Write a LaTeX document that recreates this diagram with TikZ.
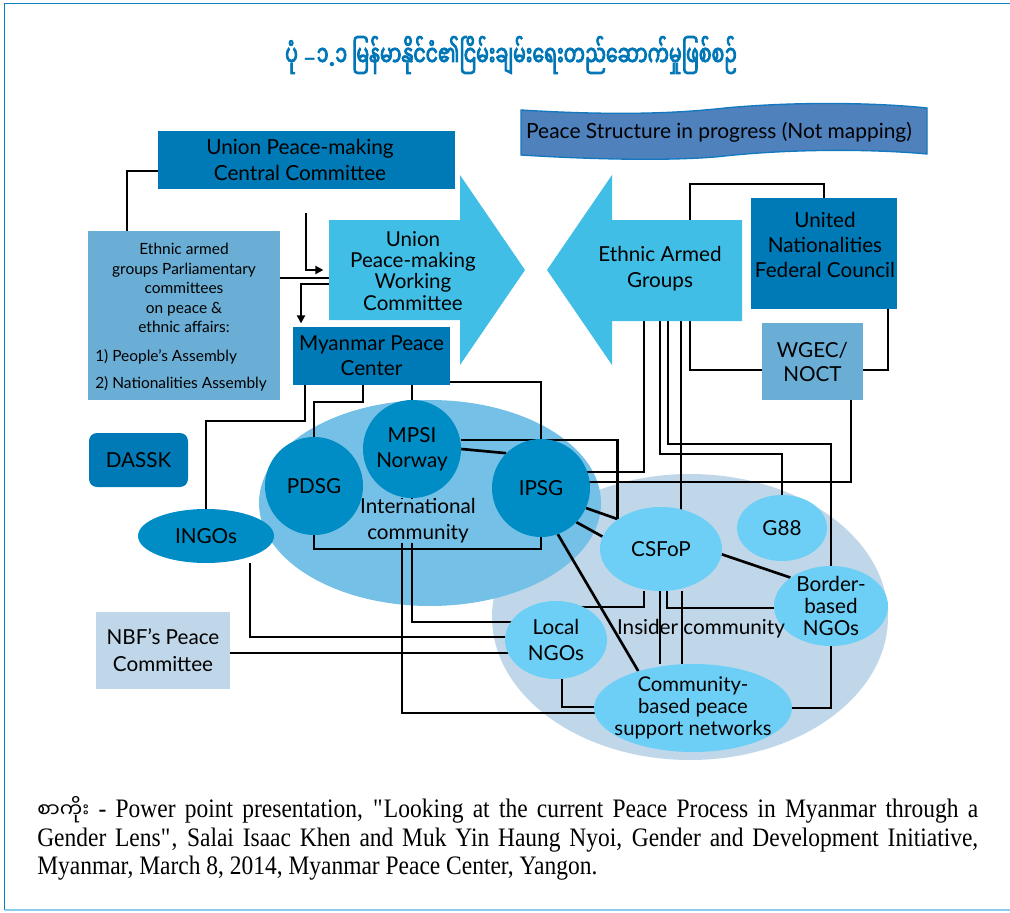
\documentclass[tikz,border=0pt]{standalone}
\usepackage{fontspec}
\setmainfont{Lato}
\newfontfamily\myan[Script=Myanmar]{Noto Sans Myanmar UI}
\newfontfamily\myanb[Script=Myanmar,FakeBold=3,FakeStretch=0.66]{Noto Sans Myanmar UI}
\newfontfamily\footfont[FakeStretch=0.88]{Liberation Serif}
\usetikzlibrary{shapes.geometric,arrows.meta}
\pgfdeclarelayer{back}
\pgfdeclarelayer{lines}
\pgfsetlayers{back,lines,main}
\newcommand\pxx{*0.75pt}
\newcommand\fsz[2]{\fontsize{#1}{#2}\selectfont}
\definecolor{darkbox}{RGB}{0,122,182}
\definecolor{circc}{RGB}{0,140,196}
\definecolor{arrowc}{RGB}{65,190,230}
\definecolor{midbox}{RGB}{106,174,214}
\definecolor{intlc}{RGB}{116,192,230}
\definecolor{insc}{RGB}{192,215,234}
\definecolor{smallc}{RGB}{109,207,245}
\definecolor{bannerc}{RGB}{79,129,189}
\definecolor{bannerline}{RGB}{20,120,190}
\definecolor{titlec}{RGB}{0,118,182}
\definecolor{framec}{RGB}{10,130,196}
\definecolor{framelight}{RGB}{140,205,238}
\begin{document}
\begin{tikzpicture}[x=0.75pt,y=-0.75pt,
  conn/.style={draw=black,line width=2pt},
  arr/.style={conn,-{Triangle[length=6pt,width=6pt]}},
  box/.style={rectangle,inner sep=0pt,align=center,text=black},
  dbox/.style={box,fill=darkbox},
  mbox/.style={box,fill=midbox},
  lbox/.style={box,fill=insc},
  circ/.style={circle,fill=circc,inner sep=0pt,align=center},
  dell/.style={ellipse,fill=circc,inner sep=0pt},
  sell/.style={ellipse,fill=smallc,inner sep=0pt},
  txt/.style={inner sep=0pt,align=center,text=black}]
\useasboundingbox (0,0) rectangle (1010,913);
% frame
\draw[framec,line width=1.4pt] (4.5,910) -- (4.5,3.5) -- (1015,3.5);
\draw[framelight,line width=1.4pt] (4.5,910) -- (1015,910);
% title
\node[txt,text=titlec,font=\myanb\fsz{21.5}{24}] (title) at (511,55) {ပုံ {\rmfamily\bfseries\fsz{18}{24}–}၁{\rmfamily\bfseries .}၁ မြန်မာနိုင်ငံ၏ငြိမ်းချမ်းရေးတည်ဆောက်မှုဖြစ်စဉ်};
% banner
\filldraw[fill=bannerc,draw=bannerline,line width=1pt]
  (521,110) .. controls (620,116) and (680,113) .. (725,108)
  .. controls (800,101) and (880,103) .. (927,108) -- (927,154)
  .. controls (860,148) and (780,150) .. (725,156)
  .. controls (680,161) and (600,160) .. (521,155) -- cycle;
\node[txt,font=\fsz{15.7}{17}] (banner) at (719,132) {Peace Structure in progress (Not mapping)};
% big ellipses
\begin{pgfonlayer}{back}
\node[ellipse,fill=insc,inner sep=0pt,minimum width=396\pxx,minimum height=286\pxx] (insider) at (690,617) {};
\node[ellipse,fill=intlc,inner sep=0pt,minimum width=342\pxx,minimum height=206\pxx] (intl) at (430,503) {};
\end{pgfonlayer}
% boxes
\node[dbox,minimum width=297\pxx,minimum height=58\pxx] (cc) at (306.5,160) {};
\node[txt,font=\fsz{15.6}{19}] (cct) at (300,160) {Union Peace-making\\Central Committee};
\node[mbox,minimum width=192\pxx,minimum height=169\pxx] (eab) at (184,315.5) {};
\node[txt,font=\fsz{11.6}{14.6}] (eabt) at (184,288) {Ethnic armed\\groups Parliamentary\\committees\\on peace \&\\ethnic affairs:};
\node[txt,align=left,anchor=west,font=\fsz{11.6}{20}] (eabl) at (95,370.5) {1) People’s Assembly\\2) Nationalities Assembly};
% working committee arrow
\fill[arrowc] (329,220) -- (460,220) -- (460,175) -- (525,270) -- (460,365) -- (460,320) -- (329,320) -- cycle;
\node[inner sep=0pt,minimum width=131\pxx,minimum height=100\pxx] (wc) at (394.5,270) {};
\node[txt,font=\fsz{15.4}{15.8}] (wct) at (413,271) {Union\\Peace-making\\Working\\Committee};
% ethnic armed groups arrow
\fill[arrowc] (742,220) -- (612,220) -- (612,175) -- (547,270) -- (612,365) -- (612,321) -- (742,321) -- cycle;
\node[inner sep=0pt,minimum width=130\pxx,minimum height=101\pxx] (eag) at (677,270.5) {};
\node[txt,font=\fsz{15.5}{19.5}] (eagt) at (660,269) {Ethnic Armed\\Groups};
% UNFC, WGEC
\node[dbox,minimum width=146\pxx,minimum height=111\pxx] (unfc) at (824,253.5) {};
\node[txt,font=\fsz{15.5}{19}] (unfct) at (825,245) {United\\Nationalities\\Federal Council};
\node[mbox,minimum width=101\pxx,minimum height=77\pxx,font=\fsz{15.5}{18}] (wgec) at (812.5,361.5) {WGEC/\\NOCT};
% MPC, DASSK, NBF
\node[dbox,minimum width=157\pxx,minimum height=58\pxx,font=\fsz{15.5}{18.7}] (mpc) at (371.5,356) {Myanmar Peace\\Center};
\node[dbox,rounded corners=6pt,minimum width=99\pxx,minimum height=54\pxx,font=\fsz{15.5}{17}] (dassk) at (138.5,460) {DASSK};
\node[lbox,minimum width=134\pxx,minimum height=77\pxx,font=\fsz{15.5}{20}] (nbf) at (163,650.5) {NBF’s Peace\\Committee};
% international community label (covers lines)
\node[txt,fill=intlc,font=\fsz{15.5}{19.5}] (ictext) at (418,521) {International\\community};
% circles
\node[circ,minimum size=98\pxx,font=\fsz{15.5}{17}] (pdsg) at (314,486) {PDSG};
\node[circ,minimum size=98\pxx,label={[txt,font=\fsz{15.5}{19}]center:MPSI\\Norway}] (mpsi) at (412,449) {};
\node[circ,minimum size=98\pxx,font=\fsz{15.5}{17}] (ipsg) at (541,488) {IPSG};
\node[dell,minimum width=136\pxx,minimum height=54\pxx,font=\fsz{15.5}{17}] (ingos) at (206,536) {INGOs};
% insider community
\node[sell,minimum width=122\pxx,minimum height=84\pxx,font=\fsz{15.5}{17}] (csfop) at (661,549) {CSFoP};
\node[sell,minimum width=90\pxx,minimum height=66\pxx,font=\fsz{15.5}{17}] (g88) at (782,528) {G88};
\node[sell,minimum width=114\pxx,minimum height=80\pxx,label={[txt,font=\fsz{15.5}{16.8}]center:Border-\\based\\NGOs}] (bngo) at (831,606) {};
\node[sell,minimum width=102\pxx,minimum height=78\pxx,label={[txt,font=\fsz{15.5}{19.5}]center:Local\\NGOs}] (lngo) at (556,640) {};
\node[sell,minimum width=198\pxx,minimum height=88\pxx,label={[txt,font=\fsz{15.2}{16.5}]center:Community-\\based peace\\support networks}] (cbpsn) at (693,708) {};
\node[txt,font=\fsz{15.5}{17}] (instext) at (701,629) {Insider community};
% footer
\node[anchor=north west,inner sep=0pt,text width=941\pxx,align=justify,font=\footfont\fsz{20}{21.6}] (foot) at (37,796)
 {{\myan\fsz{15}{21.6}စာကိုး} - Power point presentation, \textquotedbl Looking at the current Peace Process in Myanmar through a\linebreak Gender Lens\textquotedbl, Salai Isaac Khen and Muk Yin Haung Nyoi, Gender and Development Initiative,\linebreak Myanmar, March 8, 2014, Myanmar Peace Center, Yangon.};
% connectors
\coordinate (ccdrop) at (306,213);
\begin{pgfonlayer}{lines}
\draw[conn] (cc.west |- 0,171) -| (eab.north -| 127,0);
\draw[arr,shorten >=4pt] (ccdrop) |- (wc.west);
\draw[conn] (eab.east |- 0,278) -- (wc.west |- 0,278);
\draw[arr,shorten >=2.5pt] (wc.west |- 0,284) -| (mpc.north -| 301,0);
\draw[conn] (mpc.south -| 305,0) |- (ingos.north |- 0,421) -- (ingos.north);
\draw[conn] (mpc.south -| 363,0) |- (pdsg.north |- 0,402) -- (pdsg.north);
\draw[conn] (mpc.south -| mpsi.north) -- (mpsi.north);
\draw[conn] (mpc.east |- 0,382) -| (ipsg.north);
\draw[conn] (pdsg.south) |- (ipsg.south |- 0,549) -- (ipsg.south);
\draw[conn] (mpsi.east) -- (ipsg.north west);
\draw[conn] (mpsi.east |- 0,440) -| (csfop.north west);
\draw[conn] (ipsg.-24) -- (csfop.north west);
\draw[conn] (ipsg.-44) -- (csfop.168);
\draw[conn] (ipsg.-70) -- (cbpsn.146);
\draw[conn] (mpsi.south -| 402,0) |- (cbpsn.center |- 0,713);
\draw[conn] (mpsi.south) |- (lngo.center |- 0,622);
\draw[conn] (ingos.south -| 250,0) |- (lngo.center |- 0,637);
\draw[conn] (nbf.east |- 0,653) -- (lngo.center |- 0,653);
\draw[conn] (lngo.south -| 562,0) |- (cbpsn.center |- 0,707);
\draw[conn] (csfop.south -| 644,0) |- (lngo.center |- 0,607);
\draw[conn] (csfop.south -| 660,0) -- (cbpsn.north -| 660,0);
\draw[conn] (csfop.south -| 682,0) -- (cbpsn.north -| 682,0);
\draw[conn] (csfop.south -| 667,0) |- (bngo.center |- 0,608);
\draw[conn] (csfop.-5) -- (bngo.145);
\draw[conn] (bngo.south) |- (cbpsn.east);
\draw[conn] (eag.south -| 644,0) |- (ipsg.center |- 0,472);
\draw[conn] (eag.south -| 660,0) |- (g88.north |- 0,454) -- (g88.north);
\draw[conn] (eag.south -| 668,0) |- (bngo.north |- 0,444) -- (bngo.north);
\draw[conn] (eag.south -| 681,0) -- (csfop.center -| 681,0);
\draw[conn] (eag.south -| 690,0) |- (wgec.west |- 0,370);
\draw[conn] (eag.north -| 690,0) |- (unfc.north |- 0,184) -- (unfc.north);
\draw[conn] (unfc.south -| 888,0) |- (wgec.east |- 0,370);
\draw[conn] (wgec.south -| 851,0) |- (ipsg.center |- 0,482);
\end{pgfonlayer}
\end{tikzpicture}
\end{document}
